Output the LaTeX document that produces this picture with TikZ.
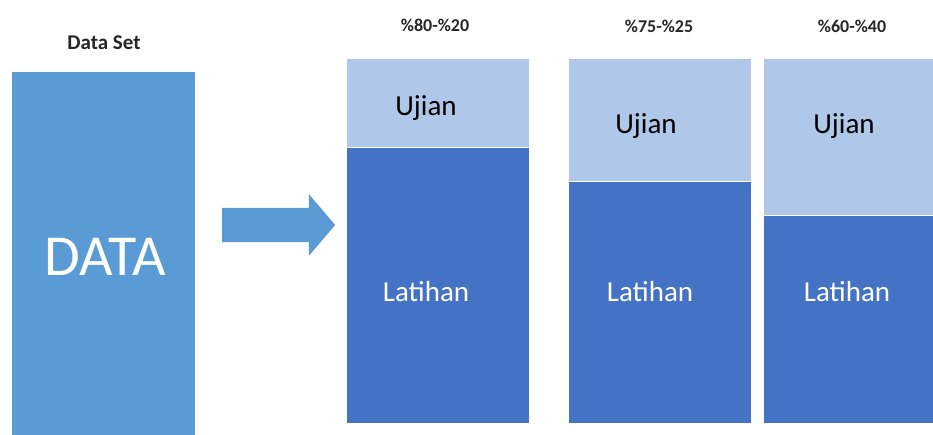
\documentclass[tikz,border=0pt]{standalone}
\usepackage{fontspec}
\setmainfont{Carlito}
\usetikzlibrary{positioning}
\usetikzlibrary{shapes.arrows}
\definecolor{dataBlue}{HTML}{5B9BD5}
\definecolor{trainBlue}{HTML}{4472C4}
\definecolor{testBlue}{HTML}{AFC7E8}
\definecolor{capGray}{HTML}{262626}
\tikzset{
    blok/.style = {rectangle, inner sep=0pt, anchor=north west},
    blok_d/.style = {blok, fill=dataBlue},% kotak data
    blok_u/.style = {blok, fill=testBlue},% bagian ujian
    blok_l/.style = {blok, fill=trainBlue},% bagian latihan
    judul/.style = {font=\fontsize{18}{21}\selectfont\bfseries, text=capGray},
    isi/.style = {font=\fontsize{29}{34}\selectfont},
}

\begin{document}
\begin{tikzpicture}[x=1pt,y=-1pt]
\useasboundingbox (0,0) rectangle (933,435);
% data set
\node [blok_d, minimum width=183pt, minimum height=363pt] (data) at (12,72) {};
\node [judul, font=\fontsize{21}{25}\selectfont\bfseries] (lbldata) at (104,43) {Data Set};
\node [font=\fontsize{58}{66}\selectfont, white] at (105,257) {DATA};
% panah
\node [single arrow, fill=dataBlue, inner xsep=0pt, inner ysep=17pt,
    minimum height=113pt, single arrow head extend=13.5pt,
    single arrow tip angle=99, anchor=tail] (panah) at (222,225) {};
% pembagian 80-20
\node [blok_u, minimum width=182pt, minimum height=88pt] (u1) at (347,59) {};
\node [blok_l, minimum width=182pt, minimum height=275pt] (l1) at (347,148) {};
\node [judul] at (435,25) {\%80-\%20};
\node [isi] at (426,108) {Ujian};
\node [isi, white] at (426,292) {Latihan};
% pembagian 75-25
\node [blok_u, minimum width=182pt, minimum height=122pt] (u2) at (569,59) {};
\node [blok_l, minimum width=182pt, minimum height=241pt] (l2) at (569,182) {};
\node [judul] at (659,26) {\%75-\%25};
\node [isi] at (646,126) {Ujian};
\node [isi, white] at (650,292) {Latihan};
% pembagian 60-40
\node [blok_u, minimum width=169pt, minimum height=156pt] (u3) at (764,59) {};
\node [blok_l, minimum width=169pt, minimum height=207pt] (l3) at (764,216) {};
\node [judul] at (852,26) {\%60-\%40};
\node [isi] at (844,126) {Ujian};
\node [isi, white] at (847,292) {Latihan};
\end{tikzpicture}
\end{document}
